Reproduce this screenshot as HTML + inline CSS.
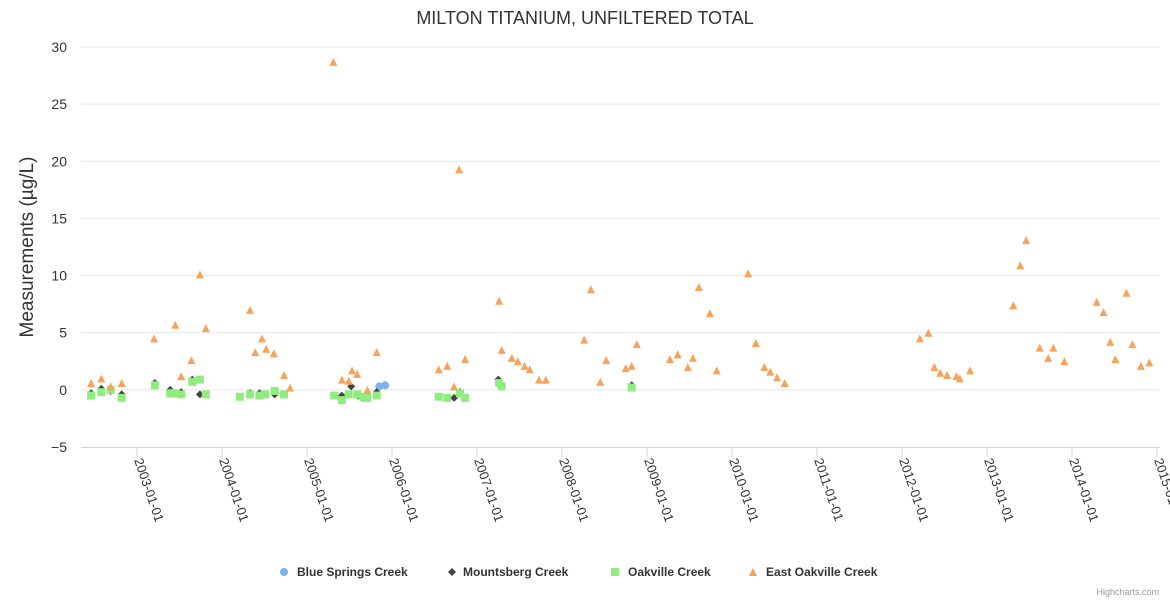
<!DOCTYPE html>
<html><head><meta charset="utf-8"><style>
body{margin:0;background:#fff;font-family:"Liberation Sans",sans-serif}
svg{display:block}
</style></head><body>
<svg id="chart" width="1170" height="600" xmlns="http://www.w3.org/2000/svg">
<text x="585" y="24" text-anchor="middle" font-size="18" fill="#333">MILTON TITANIUM, UNFILTERED TOTAL</text>
<text transform="translate(33,247) rotate(-90)" text-anchor="middle" font-size="19" fill="#333">Measurements (µg/L)</text>
<g id="grid"></g><g id="xaxis"></g><g id="marks"></g>
<g font-size="12" font-weight="bold" fill="#333">
 <g><circle cx="284" cy="572" r="4" fill="#7cb5ec"/><text x="297" y="576">Blue Springs Creek</text></g>
 <g><path d="M452 568 L456 572 L452 576 L448 572Z" fill="#434348"/><text x="463" y="576">Mountsberg Creek</text></g>
 <g><rect x="611" y="568" width="8" height="8" fill="#90ed7d"/><text x="628" y="576">Oakville Creek</text></g>
 <g><path d="M753 568 L757 576 L749 576Z" fill="#f7a35c"/><text x="766" y="576">East Oakville Creek</text></g>
</g>
<text x="1159" y="595" text-anchor="end" font-size="9" fill="#999">Highcharts.com</text>
</svg>
<script>
const yTicks=[30,25,20,15,10,5,0,-5];
const xTickLabels=["2003-01-01","2004-01-01","2005-01-01","2006-01-01","2007-01-01","2008-01-01","2009-01-01","2010-01-01","2011-01-01","2012-01-01","2013-01-01","2014-01-01","2015-01-01"];
const blueX=[2005.66,2005.85,2005.92];
const blueY=[-0.7,0.3,0.4];
const mountX=[2002.46,2002.58,2002.69,2002.82,2003.21,2003.39,2003.52,2003.65,2003.74,2004.33,2004.44,2004.62,2005.41,2005.52,2005.60,2005.71,2005.82,2006.73,2006.80,2007.25,2008.82];
const mountY=[-0.3,0.1,-0.1,-0.4,0.6,0.0,-0.2,0.9,-0.4,-0.3,-0.3,-0.4,-0.5,0.3,-0.5,-0.5,-0.2,-0.7,-0.2,0.9,0.4];
const oakX=[2002.46,2002.58,2002.69,2002.82,2003.21,2003.39,2003.45,2003.52,2003.65,2003.74,2003.81,2004.21,2004.33,2004.44,2004.51,2004.62,2004.73,2005.32,2005.41,2005.49,2005.59,2005.67,2005.71,2005.82,2006.55,2006.65,2006.80,2006.86,2007.26,2007.29,2008.82];
const oakY=[-0.5,-0.2,0.0,-0.7,0.4,-0.3,-0.3,-0.4,0.7,0.9,-0.4,-0.6,-0.4,-0.5,-0.4,-0.1,-0.4,-0.5,-0.9,-0.4,-0.4,-0.6,-0.7,-0.5,-0.6,-0.7,-0.3,-0.7,0.6,0.3,0.2];
const eastX=[2002.46,2002.58,2002.69,2002.82,2003.20,2003.45,2003.52,2003.64,2003.74,2003.81,2004.33,2004.39,2004.47,2004.52,2004.61,2004.73,2004.80,2005.31,2005.41,2005.49,2005.53,2005.59,2005.71,2005.82,2006.55,2006.65,2006.73,2006.79,2006.86,2007.26,2007.29,2007.41,2007.48,2007.56,2007.62,2007.73,2007.81,2008.26,2008.34,2008.45,2008.52,2008.75,2008.82,2008.88,2009.27,2009.36,2009.48,2009.54,2009.61,2009.74,2009.82,2010.19,2010.28,2010.38,2010.45,2010.53,2010.62,2012.21,2012.31,2012.38,2012.45,2012.53,2012.64,2012.68,2012.80,2013.31,2013.39,2013.46,2013.62,2013.72,2013.78,2013.91,2014.29,2014.37,2014.45,2014.51,2014.64,2014.71,2014.81,2014.91];
const eastY=[0.6,1.0,0.3,0.6,4.5,5.7,1.2,2.6,10.1,5.4,7.0,3.3,4.5,3.6,3.2,1.3,0.2,28.7,0.9,0.8,1.7,1.4,0.0,3.3,1.8,2.1,0.3,19.3,2.7,7.8,3.5,2.8,2.5,2.1,1.8,0.9,0.9,4.4,8.8,0.7,2.6,1.9,2.1,4.0,2.7,3.1,2.0,2.8,9.0,6.7,1.7,10.2,4.1,2.0,1.6,1.1,0.6,4.5,5.0,2.0,1.5,1.3,1.2,1.0,1.7,7.4,10.9,13.1,3.7,2.8,3.7,2.5,7.7,6.8,4.2,2.7,8.5,4.0,2.1,2.4];

const NS="http://www.w3.org/2000/svg";
const L=81,R=1160,T=47,B=447;
function yS(v){return B-(v+5)/35*(B-T);}
function xS(yr){return 137+(yr-2003)*85;}
function mk(tag,attrs,parent){const e=document.createElementNS(NS,tag);for(const k in attrs)e.setAttribute(k,attrs[k]);parent.appendChild(e);return e;}
const grid=document.getElementById('grid'),xa=document.getElementById('xaxis'),marks=document.getElementById('marks');
yTicks.forEach(v=>{
  const y=yS(v);
  if(v!==-5){const g=mk('line',{x1:L,x2:R,y1:y,y2:y,stroke:'#e6e6e6','stroke-width':1},grid);
  
  }
  const t=mk('text',{x:67,y:y+5,'text-anchor':'end','font-size':14,fill:'#333'},grid);
  t.textContent=String(v).replace('-','−');
  
  
});
const axl=mk('line',{x1:L,x2:R,y1:B+0.5,y2:B+0.5,stroke:'#ccd6eb','stroke-width':1},xa);


xTickLabels.forEach((lab,i)=>{
  const x=xS(2003+i);
  const tk=mk('line',{x1:x,x2:x,y1:B,y2:B+10,stroke:'#ccd6eb'},xa);
  
  
  const t=mk('text',{transform:`translate(${x-3},${B+13}) rotate(71)`,'font-size':13,fill:'#333'},xa);
  t.textContent=lab;
  
  
});
function draw(xs,ys,shape,color,name){
  xs.forEach((yr,i)=>{
    const x=xS(yr),y=yS(ys[i]);let e;
    if(shape==='circle')e=mk('circle',{cx:x,cy:y,r:4,fill:color},marks);
    else if(shape==='diamond')e=mk('path',{d:`M${x} ${y-4}L${x+4} ${y}L${x} ${y+4}L${x-4} ${y}Z`,fill:color},marks);
    else if(shape==='square')e=mk('rect',{x:x-4,y:y-4,width:8,height:8,fill:color},marks);
    else e=mk('path',{d:`M${x} ${y-4}L${x+4} ${y+4}L${x-4} ${y+4}Z`,fill:color},marks);
    
    
  });
}
draw(blueX,blueY,'circle','#7cb5ec','point-blue-springs');
draw(mountX,mountY,'diamond','#434348','point-mountsberg');
draw(oakX,oakY,'square','#90ed7d','point-oakville');
draw(eastX,eastY,'triangle','#f7a35c','point-east-oakville');
</script>
</body></html>
